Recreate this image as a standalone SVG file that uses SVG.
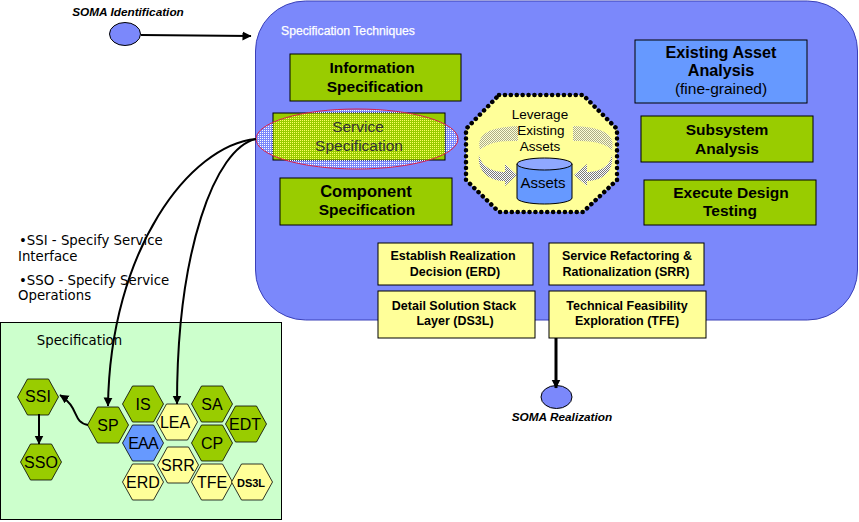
<svg xmlns="http://www.w3.org/2000/svg" width="859" height="522" viewBox="0 0 859 522">
<defs>
<marker id="ah" markerUnits="userSpaceOnUse" markerWidth="10" markerHeight="10" refX="8.500" refY="4.500" orient="auto"><path d="M0 0L9 4.500L0 9Z" fill="#000"/></marker>
<pattern id="dots" x="0" y="0" width="2" height="2" patternUnits="userSpaceOnUse"><rect x="0" y="0" width="1" height="1" fill="#ffffff"/></pattern>
<pattern id="dotsy" x="0" y="0" width="2" height="2" patternUnits="userSpaceOnUse"><rect x="0" y="0" width="2" height="2" fill="#99cc00"/><rect x="0" y="0" width="1" height="1" fill="#ffff66"/></pattern>
<clipPath id="svc"><ellipse cx="357" cy="139" rx="101" ry="30"/></clipPath>
<pattern id="grey" width="2" height="2" patternUnits="userSpaceOnUse"><rect width="2" height="2" fill="#fff"/><rect width="1" height="1" fill="#777"/><rect x="1" y="1" width="1" height="1" fill="#777"/></pattern>
<polygon id="hex" points="-20.500,0 -10.500,-18 10.500,-18 20.500,0 10.500,18 -10.500,18" stroke="#000" stroke-width="0.800"/>
</defs>
<style>
text{font-family:"Liberation Sans",Arial,sans-serif;text-anchor:middle;fill:#000}
.g{fill:#99cc00;stroke:#000;stroke-width:1}
.y{fill:#ffff99;stroke:#000;stroke-width:1}
.b{font-weight:bold;font-size:15.500px}
.s{font-weight:bold;font-size:12.500px}
.l{font-size:13.500px}
.h{font-size:16px}
.hg{fill:#99cc00}.hy{fill:#ffff99}.hb{fill:#6699ff}
.v{font-family:"DejaVu Sans",sans-serif;font-size:13.300px;text-anchor:start}
.i{font-style:italic;font-weight:bold;font-size:11.800px}
.c{fill:none;stroke:#000;stroke-width:2}
</style>
<rect width="859" height="522" fill="#fff"/>
<g id="techniques">
<rect x="255.500" y="1" width="602" height="319" rx="50" fill="#7b88fb" stroke="#3a40b8" stroke-width="1"/>
<text x="281" y="35" style="text-anchor:start;font-size:12.200px;fill:#fff;stroke:#fff;stroke-width:0.250">Specification Techniques</text>
</g>
<g id="soma-identification">
<text x="128" y="16" class="i">SOMA Identification</text>
<ellipse cx="125" cy="34" rx="15.500" ry="11.500" fill="#7b88fb" stroke="#000"/>
</g>
<g id="information-spec"><rect class="g" x="290" y="54" width="171" height="47"/><text class="b" x="372" y="73">Information</text><text class="b" x="375" y="92">Specification</text></g>
<g id="service-spec">
<rect class="g" x="273" y="113" width="172" height="47"/>
<ellipse cx="357" cy="139" rx="101" ry="30" fill="url(#dots)"/>
<rect x="273.500" y="113.500" width="171" height="46" fill="url(#dotsy)" clip-path="url(#svc)"/>
<ellipse cx="357" cy="139" rx="101" ry="30" fill="none" stroke="#d8204a" stroke-width="1"/>
<text x="358" y="132" style="font-size:15.500px;fill:#333">Service</text><text x="359" y="151" style="font-size:15.500px;fill:#333">Specification</text>
</g>
<g id="component-spec"><rect class="g" x="280" y="178" width="172" height="47"/><text class="b" x="366" y="197" style="font-size:16.500px">Component</text><text class="b" x="367" y="215">Specification</text></g>
<g id="leverage">
<polygon points="499,95 583,95 617,129 617,180 583,212 499,212 466,180 466,129" fill="#ffff99" stroke="#000" stroke-width="4.500" stroke-dasharray="0.100 5.800" stroke-linecap="round"/>
<path d="M480 150C476 135 488 127 518 126V141C500 141 490 142 480 150Z" fill="url(#grey)" opacity="0.6"/>
<path d="M612 150C616 135 604 127 573 126V141C592 141 603 142 612 150Z" fill="url(#grey)" opacity="0.6"/>
<path d="M479 155C482 168 494 172 505 172V164L517 175L505 186V181C490 181 477 172 479 155Z" fill="url(#grey)"/>
<path d="M612 155C609 168 598 172 587 172V164L574 175L587 186V181C602 181 614 172 612 155Z" fill="url(#grey)"/>
<text x="540" y="119" class="l">Leverage</text><text x="541" y="135" class="l">Existing</text><text x="540" y="151" class="l">Assets</text>
<path d="M517 164V198A27.500 6 0 0 0 572 198V164Z" fill="#6699ff" stroke="#000"/>
<ellipse cx="544.500" cy="164" rx="27.500" ry="6" fill="#8fa8ff" stroke="#000"/>
<text x="543" y="188" style="font-size:15px">Assets</text>
</g>
<g id="existing-asset"><rect x="635" y="40" width="172" height="63" fill="#6699ff" stroke="#000"/><text class="b" x="721" y="58" style="font-size:16.200px">Existing Asset</text><text class="b" x="721" y="76" style="font-size:16.200px">Analysis</text><text x="721" y="94" style="font-size:15.500px">(fine-grained)</text></g>
<g id="subsystem"><rect class="g" x="641" y="116" width="172" height="46"/><text class="b" x="727" y="135">Subsystem</text><text class="b" x="727" y="154">Analysis</text></g>
<g id="edt"><rect class="g" x="644" y="180" width="172" height="45"/><text class="b" x="731" y="198">Execute Design</text><text class="b" x="730" y="216">Testing</text></g>
<g id="erd"><rect class="y" x="378" y="243" width="155" height="42"/><text class="s" x="453" y="260">Establish Realization</text><text class="s" x="455" y="276">Decision (ERD)</text></g>
<g id="srr"><rect class="y" x="549" y="243" width="155" height="42"/><text class="s" x="627" y="260">Service Refactoring &amp;</text><text class="s" x="626" y="276">Rationalization (SRR)</text></g>
<g id="ds3l"><rect class="y" x="378" y="291" width="157" height="47"/><text class="s" x="454" y="310">Detail Solution Stack</text><text class="s" x="455" y="325">Layer (DS3L)</text></g>
<g id="tfe"><rect class="y" x="549" y="291" width="157" height="47"/><text class="s" x="627" y="310">Technical Feasibility</text><text class="s" x="627" y="325">Exploration (TFE)</text></g>
<g id="soma-realization"><ellipse cx="556.500" cy="397" rx="15.500" ry="11.500" fill="#7b88fb" stroke="#000"/><text x="562" y="421" class="i">SOMA Realization</text></g>
<g id="bullets">
<text class="v" x="19" y="245">•SSI - Specify Service</text><text class="v" x="18" y="261">Interface</text>
<text class="v" x="19" y="285">•SSO - Specify Service</text><text class="v" x="18" y="300">Operations</text>
</g>
<g id="spec-panel">
<rect x="0.500" y="322.500" width="281" height="197" fill="#ccffcc" stroke="#000"/>
<text x="79.500" y="345" class="v" style="text-anchor:middle">Specification</text>
</g>
<g id="h-ssi"><use href="#hex" x="38" y="397" class="hg"/><text class="h" x="38" y="402">SSI</text></g>
<g id="h-sso"><use href="#hex" x="41" y="462" class="hg"/><text class="h" x="41" y="468">SSO</text></g>
<g id="h-sp"><use href="#hex" x="108" y="425" class="hg"/><text class="h" x="108" y="431">SP</text></g>
<g id="h-is"><use href="#hex" x="143" y="404" class="hg"/><text class="h" x="143" y="410">IS</text></g>
<g id="h-lea"><use href="#hex" x="177" y="422" class="hy"/><text class="h" x="175" y="428">LEA</text></g>
<g id="h-sa"><use href="#hex" x="212" y="404" class="hg"/><text class="h" x="212" y="410">SA</text></g>
<g id="h-edt"><use href="#hex" x="246" y="424" class="hg"/><text class="h" x="245" y="430">EDT</text></g>
<g id="h-eaa"><use href="#hex" x="143" y="443" class="hb"/><text class="h" x="143" y="449" style="letter-spacing:-0.800px">EAA</text></g>
<g id="h-cp"><use href="#hex" x="212" y="443" class="hg"/><text class="h" x="212" y="449">CP</text></g>
<g id="h-srr"><use href="#hex" x="178" y="465" class="hy"/><text class="h" x="178" y="471">SRR</text></g>
<g id="h-erd"><use href="#hex" x="143" y="482" class="hy"/><text class="h" x="143" y="488">ERD</text></g>
<g id="h-tfe"><use href="#hex" x="212" y="482" class="hy"/><text class="h" x="212" y="488">TFE</text></g>
<g id="h-ds3l"><use href="#hex" x="252" y="482" class="hy"/><text x="251" y="487" style="font-size:11px;font-weight:bold">DS3L</text></g>
<g id="connectors">
<path class="c" d="M141 35L251 36" marker-end="url(#ah)"/>
<path class="c" d="M556 338V388" style="stroke-width:3" marker-end="url(#ah)"/>
<path class="c" d="M256 139C190 145 110 250 108 406" marker-end="url(#ah)"/>
<path class="c" d="M256 139C215 148 177 250 177 404" marker-end="url(#ah)"/>
<path class="c" d="M88 425C72 422 80 408 60 395" marker-end="url(#ah)"/>
<path class="c" d="M39 414V444" marker-end="url(#ah)"/>
</g>
</svg>
